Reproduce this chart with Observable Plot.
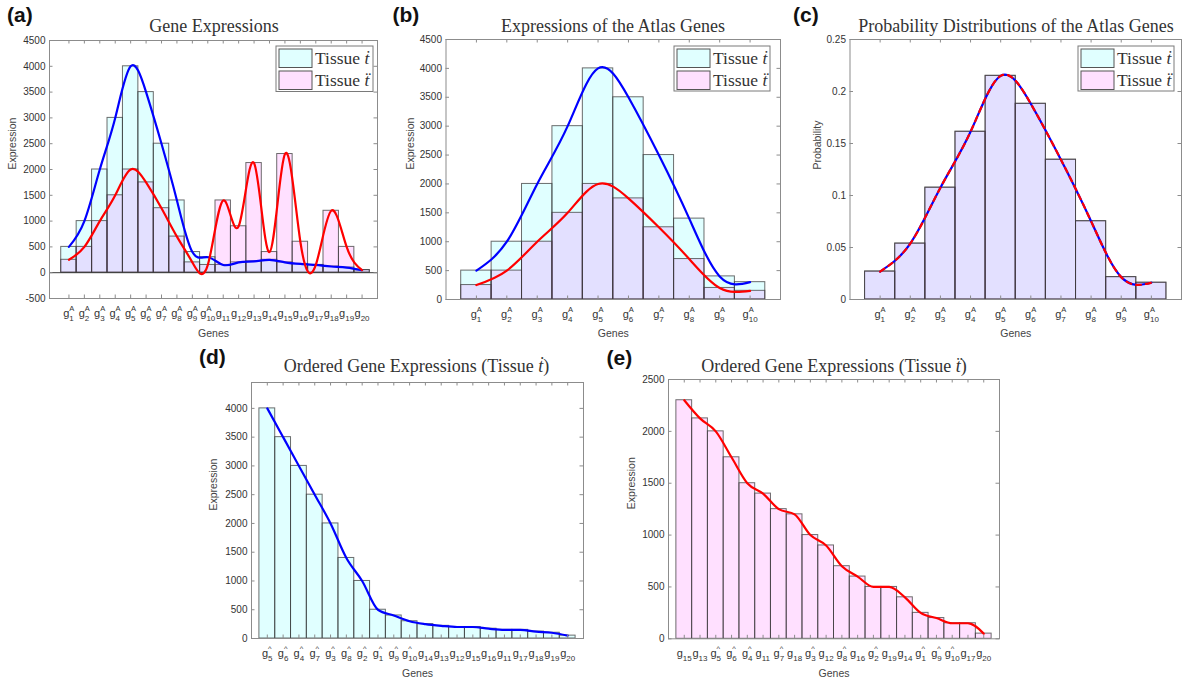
<!DOCTYPE html>
<html>
<head>
<meta charset="utf-8">
<script src="https://cdn.jsdelivr.net/npm/d3@7"></script>
<script src="https://cdn.jsdelivr.net/npm/@observablehq/plot@0.6"></script>
<style>
  body { margin: 0; background: #fff; }
  #fig { position: relative; width: 1183px; height: 680px; overflow: hidden; background: #fff; }
  .panel { position: absolute; }
</style>
</head>
<body>
<div id="fig"></div>
<script>
// ---- Data -------------------------------------------------------------
// Gene numbers g1..g20; the first ten are the atlas genes.
const geneNumbers = [1, 2, 3, 4, 5, 6, 7, 8, 9, 10, 11, 12, 13, 14, 15, 16, 17, 18, 19, 20];
const atlasSize = 10;
// Expression in tissue ṫ (cyan bars, blue curve)
const expressionDot = [500, 1000, 2000, 3000, 4000, 3500, 2500, 1400, 400, 300,
                       150, 200, 220, 250, 200, 170, 150, 120, 100, 50];
// Expression in tissue ẗ (pink bars, red curve)
const expressionDdot = [250, 500, 1000, 1500, 2000, 1750, 1250, 700, 200, 150,
                        1400, 900, 2125, 400, 2300, 600, 150, 1200, 500, 50];

// Axis tick values
const ticksAll = [-500, 0, 500, 1000, 1500, 2000, 2500, 3000, 3500, 4000, 4500];
const ticksAtlas = [0, 500, 1000, 1500, 2000, 2500, 3000, 3500, 4000, 4500];
const ticksProb = [0, 0.05, 0.1, 0.15, 0.2, 0.25];
const ticksOrderedDot = [0, 500, 1000, 1500, 2000, 2500, 3000, 3500, 4000];
const ticksOrderedDdot = [0, 500, 1000, 1500, 2000, 2500];

const seriesNames = ["Tissue ", "Tissue "];
const seriesMarks = ["ṫ", "ẗ"];

// ---- Shared styles ----------------------------------------------------
const SANS = '"Liberation Sans", Arial, Helvetica, sans-serif';
const SERIF = '"Liberation Serif", "Times New Roman", serif';
const frameColor = "#8c8c8c";
const textColor = "#333";
const cyanFill = "cyan", pinkFill = "magenta", fillAlpha = 0.12;
const edge = {stroke: "#3c3c3c", strokeOpacity: 0.75, strokeWidth: 1};

const genes = geneNumbers.map((n, k) => ({n, atlas: n <= atlasSize, dot: expressionDot[k], ddot: expressionDdot[k]}));
const atlas = genes.filter(g => g.atlas);
const sumDot = d3.sum(atlas, g => g.dot), sumDdot = d3.sum(atlas, g => g.ddot);

// Gene tick label: "g" with a superscript (atlas marker) over a subscript number
function geneLabelMarks(rows, dyG, dySup, dySub) {
  const gW = 6.1, supW = {"A": 5.3, "^": 3.8}, digitW = 4.45;
  const withDx = rows.map(r => {
    const sw = Math.max(r.sup ? supW[r.sup] : 0, String(r.n).length * digitW);
    return {...r, dx: Math.round((gW - sw) / 2 * 10) / 10};
  });
  const marks = [];
  for (const [dx, grp] of d3.group(withDx, r => r.dx)) {
    const common = {x: "pos", frameAnchor: "bottom", lineAnchor: "bottom", dx, fill: textColor, fontFamily: SANS};
    marks.push(Plot.text(grp, {...common, text: () => "g", textAnchor: "end", dy: dyG, fontSize: 11}));
    marks.push(Plot.text(grp.filter(r => r.sup), {...common, text: "sup", textAnchor: "start", dy: dySup, fontSize: 7.5}));
    marks.push(Plot.text(grp, {...common, text: r => String(r.n), textAnchor: "start", dy: dySub, fontSize: 8}));
  }
  return marks;
}

function drawPanel(cfg) {
  const fw = cfg.width - cfg.ml - cfg.mr, fh = cfg.height - cfg.mt - cfg.mb;
  const xPos = cfg.labels.map(r => r.pos);
  const marks = [];
  for (const b of cfg.bars) {
    marks.push(Plot.rectY(b.data, {x1: d => d.pos - 0.5, x2: d => d.pos + 0.5, y1: 0, y2: "value",
      fill: b.fill, fillOpacity: fillAlpha, ...edge}));
  }
  if (cfg.zeroLine) marks.push(Plot.ruleY([0], {stroke: "#3a3a3a", strokeWidth: 1}));
  for (const l of cfg.lines) {
    marks.push(Plot.line(l.data, {x: "pos", y: "value", curve: l.curve, stroke: l.stroke,
      strokeWidth: 2.2, strokeDasharray: l.dash || null}));
  }
  marks.push(
    Plot.frame({stroke: frameColor}),
    Plot.tickX(xPos, {x: d => d, insetBottom: fh - 3.5, stroke: frameColor}),
    Plot.tickX(xPos, {x: d => d, insetTop: fh - 3.5, stroke: frameColor}),
    Plot.tickY(cfg.yTicks, {y: d => d, insetRight: fw - 3.5, stroke: frameColor}),
    Plot.tickY(cfg.yTicks, {y: d => d, insetLeft: fw - 3.5, stroke: frameColor}),
    Plot.text(cfg.yTicks, {y: d => d, text: cfg.yFormat, frameAnchor: "left", textAnchor: "end",
      dx: -4, fontSize: 10, fill: textColor, fontFamily: SANS}),
    ...geneLabelMarks(cfg.labels, cfg.dyG, cfg.dySup, cfg.dySub),
    Plot.text(["Genes"], {frameAnchor: "bottom", lineAnchor: "bottom", dy: cfg.dyGenes,
      fontSize: 10.5, fill: "#444", fontFamily: SANS}),
    Plot.text([cfg.yLabel], {frameAnchor: "left", rotate: -90, lineAnchor: "middle", dx: cfg.dxYLabel,
      fontSize: 10.5, fill: "#444", fontFamily: SANS})
  );
  const svg = Plot.plot({
    width: cfg.width, height: cfg.height,
    marginLeft: cfg.ml, marginRight: cfg.mr, marginTop: cfg.mt, marginBottom: cfg.mb,
    x: {domain: cfg.xDomain, axis: null},
    y: {domain: cfg.yDomain, axis: null},
    style: {fontFamily: SANS, background: "transparent", overflow: "visible"},
    marks
  });
  const holder = document.createElement("div");
  holder.className = "panel";
  holder.style.left = cfg.left + "px";
  holder.style.top = cfg.top + "px";
  holder.appendChild(svg);
  document.getElementById("fig").appendChild(holder);
}

const intFmt = d => String(d);
const probFmt = d => String(+d.toFixed(2));
const lab = (rows, sup) => rows.map((g, k) => ({pos: k + 1, n: g.n, sup: g.atlas ? sup : null}));
const ser = (rows, key, scale = 1) => rows.map((g, k) => ({pos: k + 1, value: g[key] / scale}));

// (a) all twenty genes
drawPanel({
  left: 0, top: 0, width: 390, height: 340, ml: 49, mr: 13, mt: 40, mb: 42,
  xDomain: [-0.26, 21.0], yDomain: [-500, 4500], yTicks: ticksAll, yFormat: intFmt,
  bars: [{data: ser(genes, "dot"), fill: cyanFill}, {data: ser(genes, "ddot"), fill: pinkFill}],
  lines: [{data: ser(genes, "dot"), stroke: "#0000ff", curve: "natural"},
          {data: ser(genes, "ddot"), stroke: "#ff0000", curve: "natural"}],
  zeroLine: true, labels: lab(genes, "A"),
  dyG: 18, dySup: 12.5, dySub: 22, dyGenes: 38, yLabel: "Expression", dxYLabel: -37
});

// (b) atlas genes
drawPanel({
  left: 390, top: 0, width: 400, height: 340, ml: 55.5, mr: 10, mt: 39, mb: 41,
  xDomain: [0, 11], yDomain: [0, 4500], yTicks: ticksAtlas, yFormat: intFmt,
  bars: [{data: ser(atlas, "dot"), fill: cyanFill}, {data: ser(atlas, "ddot"), fill: pinkFill}],
  lines: [{data: ser(atlas, "dot"), stroke: "#0000ff", curve: "natural"},
          {data: ser(atlas, "ddot"), stroke: "#ff0000", curve: "natural"}],
  labels: lab(atlas, "A"),
  dyG: 18, dySup: 12, dySub: 22.5, dyGenes: 37, yLabel: "Expression", dxYLabel: -35.5
});

// (c) atlas genes as probability distributions
drawPanel({
  left: 790, top: 0, width: 393, height: 340, ml: 59.5, mr: 2, mt: 39, mb: 41,
  xDomain: [0, 11], yDomain: [0, 0.25], yTicks: ticksProb, yFormat: probFmt,
  bars: [{data: ser(atlas, "dot", sumDot), fill: cyanFill}, {data: ser(atlas, "ddot", sumDdot), fill: pinkFill}],
  lines: [{data: ser(atlas, "dot", sumDot), stroke: "#0000ff", curve: "natural"},
          {data: ser(atlas, "ddot", sumDdot), stroke: "#ff0000", curve: "natural", dash: "5,5"}],
  labels: lab(atlas, "A"),
  dyG: 18, dySup: 12, dySub: 22.5, dyGenes: 37, yLabel: "Probability", dxYLabel: -32
});

// (d) tissue ṫ ordered by expression
const orderedDot = d3.sort(genes, (a, b) => b.dot - a.dot);
drawPanel({
  left: 200, top: 340, width: 400, height: 340, ml: 51, mr: 17, mt: 42, mb: 42,
  xDomain: [0, 21], yDomain: [0, 4450], yTicks: ticksOrderedDot, yFormat: intFmt,
  bars: [{data: ser(orderedDot, "dot"), fill: cyanFill}],
  lines: [{data: ser(orderedDot, "dot"), stroke: "#0000ff", curve: "monotone-x"}],
  labels: lab(orderedDot, "^"),
  dyG: 18.5, dySup: 12.5, dySub: 22.5, dyGenes: 38.3, yLabel: "Expression", dxYLabel: -37.5
});

// (e) tissue ẗ ordered by expression
const orderedDdot = d3.sort(genes, (a, b) => b.ddot - a.ddot);
drawPanel({
  left: 600, top: 340, width: 400, height: 340, ml: 68, mr: 1, mt: 39, mb: 41.7,
  xDomain: [0, 21], yDomain: [0, 2500], yTicks: ticksOrderedDdot, yFormat: intFmt,
  bars: [{data: ser(orderedDdot, "ddot"), fill: pinkFill}],
  lines: [{data: ser(orderedDdot, "ddot"), stroke: "#ff0000", curve: "monotone-x"}],
  labels: lab(orderedDdot, "^"),
  dyG: 18.5, dySup: 12.5, dySub: 22.5, dyGenes: 38.3, yLabel: "Expression", dxYLabel: -36.5
});

// ---- Titles, panel tags and legends -------------------------------------
const overlay = d3.select("#fig").append("svg")
  .attr("width", 1183).attr("height", 680)
  .style("position", "absolute").style("left", 0).style("top", 0)
  .style("pointer-events", "none");

function title(x, y, parts) {
  const t = overlay.append("text").attr("x", x).attr("y", y).attr("text-anchor", "middle")
    .attr("font-family", SERIF).attr("font-size", 18).attr("fill", textColor);
  for (const p of parts) t.append("tspan").attr("font-style", p.i ? "italic" : null).text(p.s);
}
title(214, 31.5, [{s: "Gene Expressions"}]);
title(613, 31.5, [{s: "Expressions of the Atlas Genes"}]);
title(1016, 31.5, [{s: "Probability Distributions of the Atlas Genes"}]);
title(416.5, 372, [{s: "Ordered Gene Expressions (Tissue "}, {s: seriesMarks[0], i: true}, {s: ")"}]);
title(834, 372, [{s: "Ordered Gene Expressions (Tissue "}, {s: seriesMarks[1], i: true}, {s: ")"}]);

const tags = [["(a)", 7, 21.5], ["(b)", 392.5, 21.5], ["(c)", 793, 21.5], ["(d)", 199, 364], ["(e)", 606.5, 365]];
for (const [s, x, y] of tags) {
  overlay.append("text").attr("x", x).attr("y", y).attr("font-family", SANS)
    .attr("font-weight", "bold").attr("font-size", 21).attr("fill", "#111").text(s);
}

function legend(x, y, w, h) {
  const g = overlay.append("g").attr("transform", `translate(${x},${y})`);
  g.append("rect").attr("width", w).attr("height", h).attr("fill", "#fff").attr("stroke", "#7a7a7a");
  const swatches = ["#e0ffff", "#ffe0ff"];
  swatches.forEach((c, k) => {
    g.append("rect").attr("x", 3).attr("y", 3 + k * 22).attr("width", 33).attr("height", 18.5)
      .attr("fill", c).attr("stroke", "#555");
    const t = g.append("text").attr("x", 39).attr("y", 18 + k * 22)
      .attr("font-family", SERIF).attr("font-size", 17.5).attr("fill", textColor);
    t.append("tspan").text(seriesNames[k]);
    t.append("tspan").attr("font-style", "italic").text(seriesMarks[k]);
  });
}
legend(276, 46, 97, 45.5);
legend(674, 46, 96, 45);
legend(1078, 46, 96, 45);
</script>
</body>
</html>
